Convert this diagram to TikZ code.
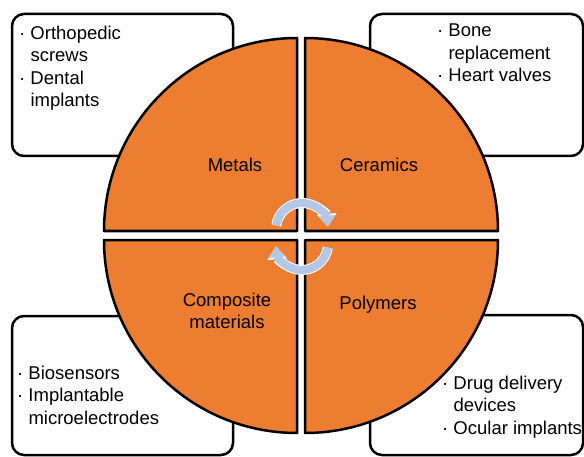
\documentclass[tikz,border=0pt]{standalone}
\usepackage{fontspec}
\setmainfont{Liberation Sans}
\usetikzlibrary{arrows.meta}

\definecolor{quadorange}{HTML}{ED7D31}
\definecolor{arrowblue}{HTML}{B4C7E7}

\tikzset{
    quadrant/.style={draw=black, line width=2.5pt, fill=quadorange, line join=round},
    infobox/.style={draw=black, line width=2.5pt, fill=white, rounded corners=12pt},
    itemtext/.style={anchor=north west, align=left, inner sep=0pt, font=\fontsize{18.5}{22.3}\selectfont},
    quadlabel/.style={align=center, inner sep=0pt, font=\fontsize{18.5}{22.3}\selectfont},
    cycleedge/.style={line width=10pt, white, -{Triangle[length=13pt, width=19pt]}},
    cyclearrow/.style={line width=8pt, arrowblue, -{Triangle[length=11pt, width=16pt]}}
}
\newcommand{\itemdot}{\textperiodcentered\ }
\newcommand{\itemgap}{\hphantom{\textperiodcentered\ }}

\begin{document}
\begin{tikzpicture}[x=1pt, y=1pt]
            \useasboundingbox (0,0) rectangle (584,456);

            % Riquadri degli usi
            \draw[infobox] (12,300) rectangle (233,442);
            \draw[infobox] (370,300) rectangle (583,442);
            \draw[infobox] (12,1) rectangle (233,140);
            \draw[infobox] (370,1) rectangle (583,141);

            % Quadranti
            \def\R{193pt}
            \coordinate (TL) at (297,225);
            \coordinate (TR) at (305,225);
            \coordinate (BL) at (297,216);
            \coordinate (BR) at (305,216);
            \draw[quadrant] (TL) -- ++(-\R,0) arc (180:90:\R) -- cycle;
            \draw[quadrant] (TR) -- ++(0,\R) arc (90:0:\R) -- cycle;
            \draw[quadrant] (BL) -- ++(0,-\R) arc (270:180:\R) -- cycle;
            \draw[quadrant] (BR) -- ++(\R,0) arc (0:-90:\R) -- cycle;

            % Frecce del ciclo
            \coordinate (U) at (302,227);
            \coordinate (D) at (302,212);
            \draw[cycleedge] ([shift={(172:26pt)}]U) arc (172:5:26pt);
            \draw[cyclearrow] ([shift={(172:26pt)}]U) arc (172:5:26pt);
            \draw[cycleedge] ([shift={(-8:26pt)}]D) arc (-8:-175:26pt);
            \draw[cyclearrow] ([shift={(-8:26pt)}]D) arc (-8:-175:26pt);

            % Materiali
            \node[quadlabel] (metals) at (235,291) {Metals};
            \node[quadlabel] (ceramics) at (379,291) {Ceramics};
            \node[quadlabel] (composites) at (227,145) {Composite\\materials};
            \node[quadlabel] (polymers) at (378,151) {Polymers};

            % Applicazioni
            \node[itemtext] (metaluses) at (19,430) {\itemdot Orthopedic\\\itemgap screws\\\itemdot Dental\\\itemgap implants};
            \node[itemtext] (ceramicuses) at (437,432) {\itemdot Bone\\\itemgap replacement\\\itemdot Heart valves};
            \node[itemtext] (compositeuses) at (17,90) {\itemdot Biosensors\\\itemdot Implantable\\\itemgap microelectrodes};
            \node[itemtext] (polymeruses) at (442,80) {\itemdot Drug delivery\\\itemgap devices\\\itemdot Ocular implants};
\end{tikzpicture}
\end{document}
